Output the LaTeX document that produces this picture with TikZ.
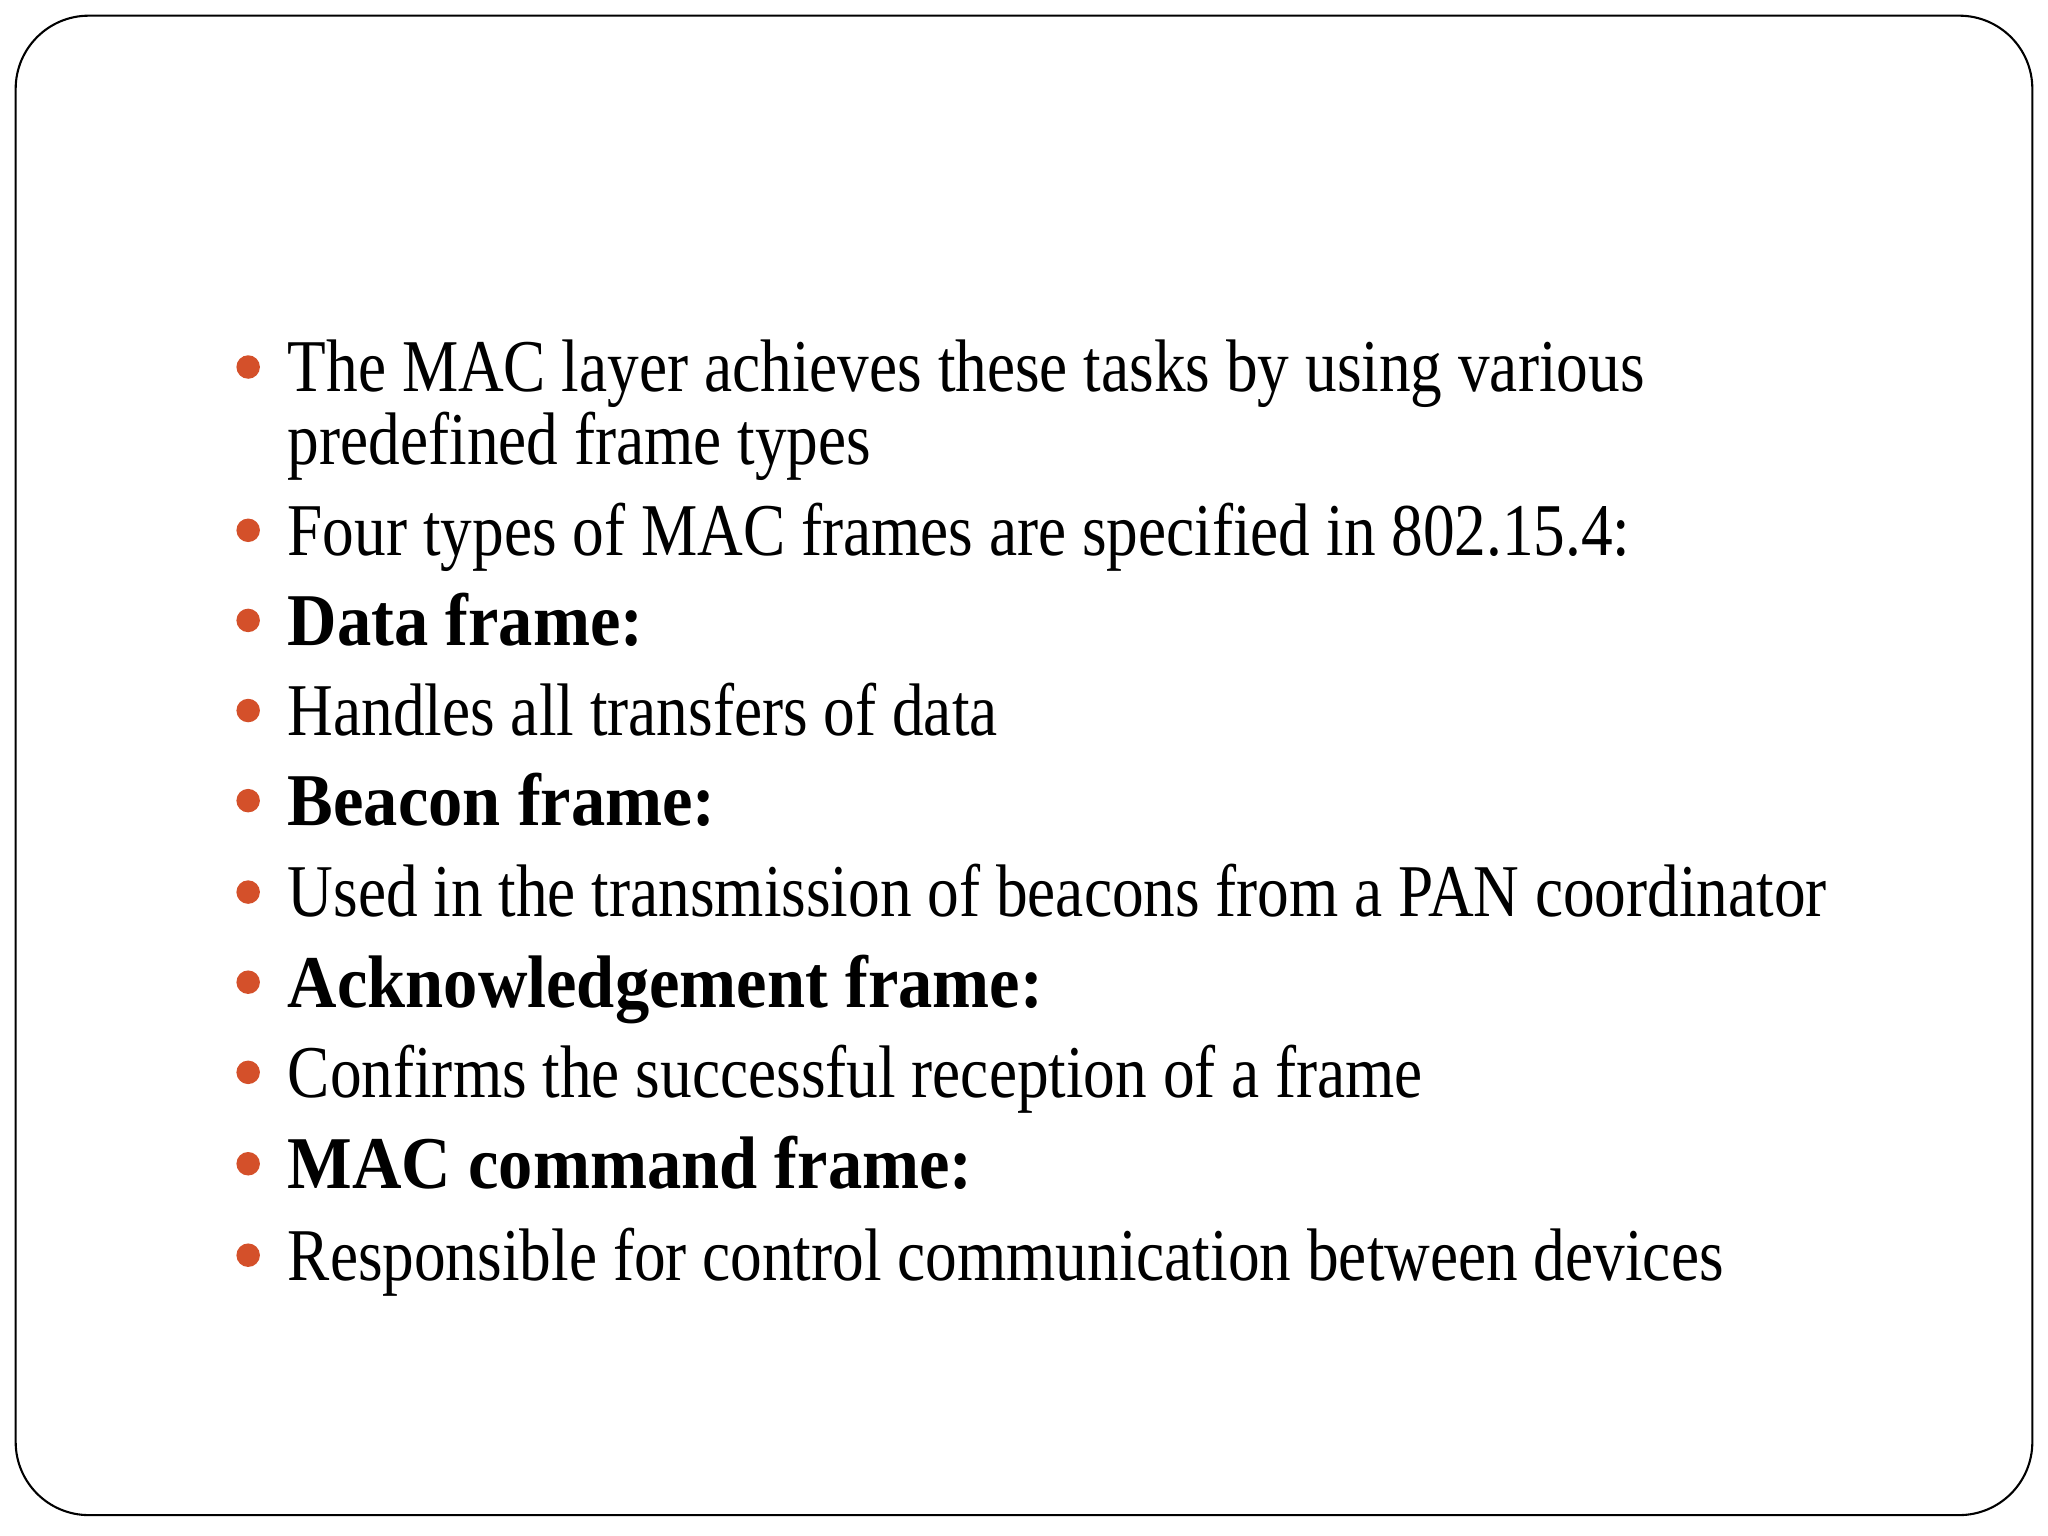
\documentclass[tikz,border=0pt]{standalone}
\usepackage{fontspec}
\setmainfont{Liberation Serif}
\definecolor{bul}{HTML}{D4502A}
\begin{document}
\begin{tikzpicture}[x=0.5pt,y=-0.5pt,
  txt/.style={anchor=base west,inner sep=0pt,font=\fontsize{28.5}{34}\selectfont,xscale=0.85},
  btxt/.style={txt,font=\fontsize{28.5}{34}\selectfont\bfseries,xscale=0.92/0.85},
  bdot/.style={circle,fill=bul,inner sep=0pt,minimum size=9pt}]
\useasboundingbox (0,0) rectangle (1568,1176);
\draw[line width=0.8pt,rounded corners=28pt] (12,12) rectangle (1556,1160);
\foreach \y/\t/\s [count=\i] in {
  300/{The MAC layer achieves these tasks by using various}/txt,
  425/{Four types of MAC frames are specified in 802.15.4:}/txt,
  494/{Data frame:}/btxt,
  563/{Handles all transfers of data}/txt,
  632/{Beacon frame:}/btxt,
  702/{Used in the transmission of beacons from a PAN coordinator}/txt,
  771/{Acknowledgement frame:}/btxt,
  840/{Confirms the successful reception of a frame}/txt,
  910/{MAC command frame:}/btxt,
  980/{Responsible for control communication between devices}/txt}{
  \node[\s] (t\i) at (220,\y) {\t};
  \node[bdot] (b\i) at (190,\y-19) {};
}
\node[txt] (t1b) at (220,356) {predefined frame types};
\end{tikzpicture}
\end{document}
